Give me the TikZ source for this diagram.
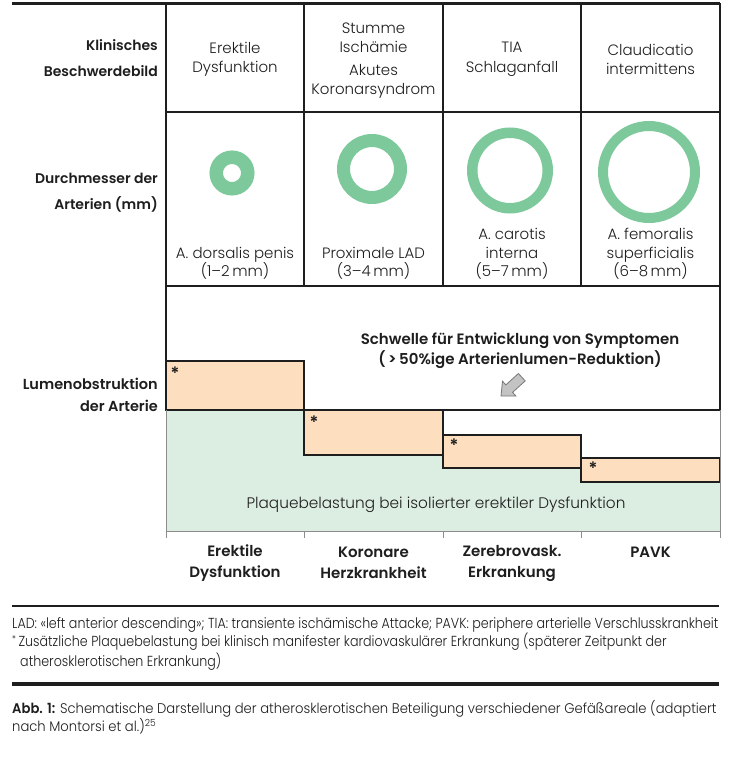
\documentclass[tikz,border=0pt]{standalone}
\usepackage{fontspec}
\setmainfont{Poppins}[UprightFont=* Light, BoldFont=* SemiBold]
\newfontfamily\condfont{Poppins}[UprightFont=* Light, BoldFont=* SemiBold, FakeStretch=0.874]
\newfontfamily\captfont{Poppins}[UprightFont=* Light, BoldFont=* SemiBold, FakeStretch=0.94]
\definecolor{ink}{RGB}{30,30,30}
\definecolor{ringgreen}{RGB}{125,201,155}
\definecolor{palegreen}{RGB}{220,237,225}
\definecolor{paleorange}{RGB}{253,222,190}
\definecolor{axisgray}{RGB}{140,140,140}
\definecolor{arrowfill}{RGB}{195,195,195}
\definecolor{arrowline}{RGB}{120,120,120}
\tikzset{
  gridline/.style={line width=1.3pt, draw=ink},
  axisline/.style={line width=1pt, draw=axisgray},
  bar/.style={fill=paleorange, draw=ink, line width=1.2pt},
  ring/.style={draw=ringgreen},
  hdr/.style={font=\fontsize{15}{19.5}\selectfont, align=center, inner sep=0pt, text=ink},
  rowlbl/.style={font=\bfseries\fontsize{14}{26}\selectfont, align=right, anchor=east, inner sep=0pt, text=ink},
  collbl/.style={font=\bfseries\fontsize{15}{21}\selectfont, align=center, inner sep=0pt, text=ink},
  star/.style={font=\bfseries\fontsize{17}{17}\selectfont, inner sep=0pt, text=ink},
  foot/.style={font=\condfont\fontsize{14.5}{19}\selectfont, anchor=base west, inner sep=0pt, text=ink},
  capt/.style={font=\captfont\fontsize{14}{19}\selectfont, anchor=base west, inner sep=0pt, text=ink},
}
\begin{document}
\begin{tikzpicture}[x=1pt,y=-1pt]
\useasboundingbox[fill=white] (0,0) rectangle (746,757);

% lower area: green stepped region
\fill[palegreen] (166,410) -- (304,410) -- (304,455) -- (443,455) -- (443,468)
  -- (581,468) -- (581,482) -- (720,482) -- (720,531) -- (166,531) -- cycle;
% orange bars
\draw[bar] (166,361) rectangle (304,410);
\draw[bar] (304,410) rectangle (443,455);
\draw[bar] (443,435) rectangle (581,468);
\draw[bar] (581,458) rectangle (720,482);
% threshold line
\draw[gridline] (166,410) -- (720,410);
% gray axis
\draw[axisline] (166,410) -- (166,538);
\draw[axisline] (720,410) -- (720,538);
\draw[axisline] (166,531) -- (720,531);
\foreach \xx in {304,443,581} \draw[axisline] (\xx,531) -- (\xx,538);

% table grid
\draw[line width=3.5pt, draw=ink] (12,3.5) -- (720,3.5);
\draw[gridline] (166,3.5) -- (166,361);
\draw[gridline] (720,3.5) -- (720,410);
\foreach \xx in {304,443,581} \draw[gridline] (\xx,3.5) -- (\xx,286);
\draw[gridline] (166,112) -- (720,112);
\draw[gridline] (166,286) -- (720,286);

% rings
\draw[ring, line width=13.5pt] (232,173) circle[radius=15.75];
\draw[ring, line width=13pt] (372,169) circle[radius=28.5];
\draw[ring, line width=10.5pt] (510,170.5) circle[radius=37.75];
\draw[ring, line width=10pt] (649,172) circle[radius=46];

% row labels
\node[rowlbl] (lblA) at (158,58) {Klinisches\\Beschwerdebild};
\node[rowlbl] (lblB) at (158,193) {Durchmesser der\\Arterien (mm)};
\node[rowlbl, font=\bfseries\fontsize{14.5}{22}\selectfont] (lblC) at (158,394.5) {Lumenobstruktion\\der Arterie};

% header cells
\node[hdr] (h1) at (235,59.5) {Erektile\\Dysfunktion};
\node[hdr, font=\fontsize{15}{19}\selectfont] (h2a) at (373.5,37.5) {Stumme\\Ischämie};
\node[hdr, font=\fontsize{15}{18.5}\selectfont] (h2b) at (373.5,81.5) {Akutes\\Koronarsyndrom};
\node[hdr] (h3) at (512,59.5) {TIA\\Schlaganfall};
\node[hdr] (h4) at (650.5,59.5) {Claudicatio\\intermittens};

% artery labels
\node[hdr, font=\fontsize{15}{18.5}\selectfont] (a1) at (235,263.5) {A. dorsalis penis\\(1–2\,mm)};
\node[hdr, font=\fontsize{15}{18.5}\selectfont] (a2) at (373.5,263.5) {Proximale LAD\\(3–4\,mm)};
\node[hdr, font=\fontsize{15}{18.5}\selectfont] (a3) at (512,254) {A. carotis\\interna\\(5–7\,mm)};
\node[hdr, font=\fontsize{15}{18.5}\selectfont] (a4) at (650.5,254) {A. femoralis\\superficialis\\(6–8\,mm)};

% threshold text and arrow
\node[collbl, font=\bfseries\fontsize{15}{20}\selectfont] (thr) at (520,351) {Schwelle für Entwicklung von Symptomen\\(\,>\,50\%ige Arterienlumen-Reduktion)};
\draw[fill=arrowfill, draw=arrowline, line width=0.8pt]
  (501,396) -- (515.9,396.0) -- (512.6,392.3) -- (525.2,380.9) -- (518.4,373.5)
  -- (505.8,384.9) -- (502.5,381.2) -- cycle;

% plaque text
\node[hdr, font=\fontsize{15.3}{20}\selectfont] (plq) at (436,505) {Plaquebelastung bei isolierter erektiler Dysfunktion};

% asterisks
\node[star] (s1) at (175,373.5) {*};
\node[star] (s2) at (314,422.5) {*};
\node[star] (s3) at (454,445.5) {*};
\node[star] (s4) at (593,468.5) {*};

% column labels
\node[collbl] (c1) at (235,563) {Erektile\\Dysfunktion};
\node[collbl] (c2) at (373.5,563) {Koronare\\Herzkrankheit};
\node[collbl] (c3) at (512,563) {Zerebrovask.\\Erkrankung};
\node[collbl] (c4) at (650.5,552.5) {PAVK};

% footnotes
\draw[line width=1.2pt, draw=ink] (12,606) -- (719,606);
\node[foot] (f1) at (12,628) {LAD: «left anterior descending»; TIA: transiente ischämische Attacke; PAVK: periphere arterielle Verschlusskrankheit};
\node[foot] (f2) at (12,646.5) {\raisebox{0.25em}{\fontsize{9.5}{9.5}\selectfont *}\,Zusätzliche Plaquebelastung bei klinisch manifester kardiovaskulärer Erkrankung (späterer Zeitpunkt der};
\node[foot] (f3) at (20,666) {atherosklerotischen Erkrankung)};
\draw[line width=3.5pt, draw=ink] (12,684) -- (719,684);
\node[capt] (cap1) at (12,713) {\textbf{Abb. 1:} Schematische Darstellung der atherosklerotischen Beteiligung verschiedener Gefäßareale (adaptiert};
\node[capt] (cap2) at (12,731.5) {nach Montorsi et al.)\textsuperscript{25}};
\end{tikzpicture}
\end{document}
